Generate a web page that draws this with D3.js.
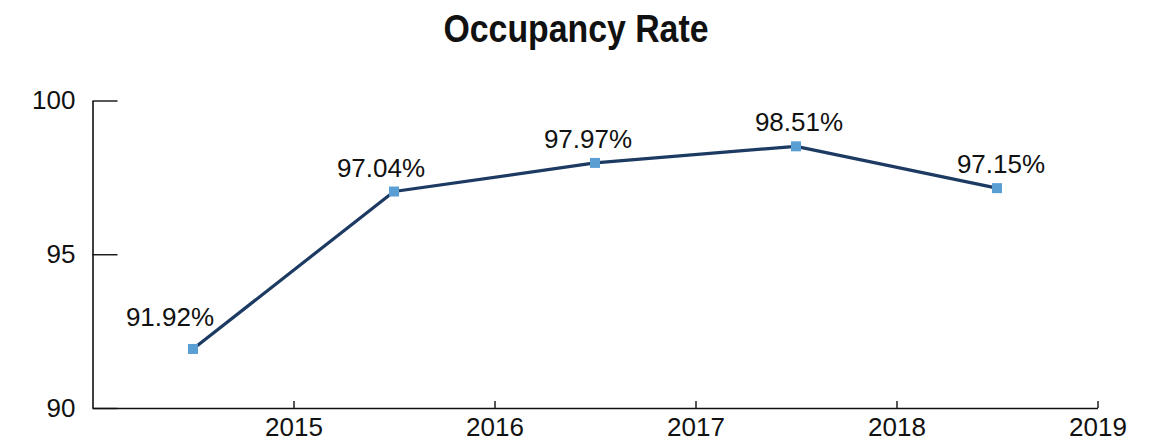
<!DOCTYPE html>
<html>
<head>
<meta charset="utf-8">
<script src="https://cdn.jsdelivr.net/npm/d3@7"></script>
<style>
  html, body { margin: 0; padding: 0; background: #fff; }
  svg text { font-family: "Liberation Sans", Arial, sans-serif; fill: #111; }
</style>
</head>
<body>
<div id="chart"></div>
<script>
// Data
const years = [2014.5, 2015.5, 2016.5, 2017.5, 2018.5];
const occupancy = [91.92, 97.04, 97.97, 98.51, 97.15];
const xTicks = [2015, 2016, 2017, 2018, 2019];
const yTicks = [90, 95, 100];

// label nudges (dx, dy) relative to each point, like the source layout
const labelNudge = [[-23, -23], [-13, -15], [-7, -15], [3, -15], [4, -15]];

const width = 1154;
const height = 444;

const svg = d3.select('#chart').append('svg')
    .attr('width', width)
    .attr('height', height);

const x = d3.scaleLinear().domain([2014, 2019]).range([92.5, 1097.5]);
const y = d3.scaleLinear().domain([90, 100]).range([408, 100.5]);

// Title - condensed look, squeeze bold sans to the width of the original
svg.append('text')
    .attr('x', 576)
    .attr('y', 42)
    .attr('text-anchor', 'middle')
    .attr('textLength', 265)
    .attr('lengthAdjust', 'spacingAndGlyphs')
    .style('font-family', '"Liberation Sans", Arial, sans-serif')
    .style('font-weight', 'bold')
    .style('font-size', '39px')
    .text('Occupancy Rate');

// Y axis
const yAxis = svg.append('g')
    .attr('transform', `translate(${x(2014)},0)`)
    .call(d3.axisLeft(y).tickValues(yTicks).tickSizeInner(-25).tickSizeOuter(0).tickPadding(17));

// X axis
const xAxis = svg.append('g')
    .attr('transform', `translate(0,${y(90)})`)
    .call(d3.axisBottom(x).tickValues(xTicks).tickFormat(d3.format('d'))
        .tickSizeInner(-7).tickSizeOuter(0).tickPadding(10));

[yAxis, xAxis].forEach(g => {
    g.select('.domain').attr('stroke', '#111').attr('stroke-width', 1.6);
    g.selectAll('.tick line').attr('stroke', '#111').attr('stroke-width', 1.4);
    g.selectAll('.tick text')
        .attr('fill', '#111')
        .style('font-family', '"Liberation Sans", Arial, sans-serif')
        .style('font-size', '26px');
});

const points = years.map((yr, i) => ({ year: yr, value: occupancy[i], nudge: labelNudge[i] }));

// Line
const line = d3.line()
    .x(d => x(d.year))
    .y(d => y(d.value));

svg.append('path')
    .datum(points)
    .attr('fill', 'none')
    .attr('stroke', '#1c3a62')
    .attr('stroke-width', 3.2)
    .attr('stroke-linejoin', 'round')
    .attr('d', line);

// Markers
const size = 10;
svg.selectAll('.marker')
    .data(points)
    .enter().append('rect')
    .attr('class', 'marker')
    .attr('x', d => x(d.year) - size / 2)
    .attr('y', d => y(d.value) - size / 2)
    .attr('width', size)
    .attr('height', size)
    .attr('fill', '#5a9fd4');

// Value labels
svg.selectAll('.value-label')
    .data(points)
    .enter().append('text')
    .attr('class', 'value-label')
    .attr('x', d => x(d.year) + d.nudge[0])
    .attr('y', d => y(d.value) + d.nudge[1])
    .attr('text-anchor', 'middle')
    .style('font-size', '26px')
    .text(d => d.value.toFixed(2) + '%');
</script>
</body>
</html>
